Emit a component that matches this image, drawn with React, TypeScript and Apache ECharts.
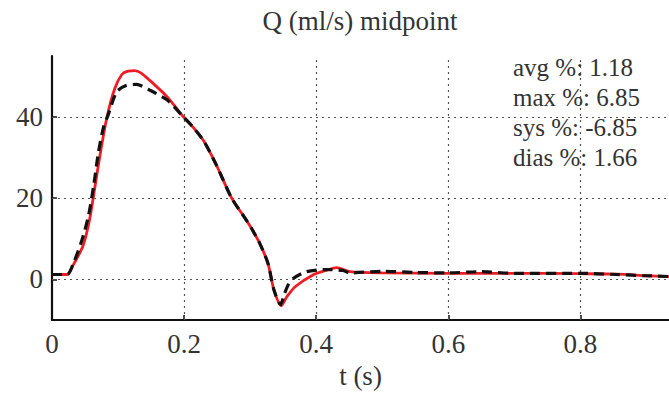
import React, { useEffect, useRef } from "react";
import * as echarts from "echarts";

const titleText = "Q (ml/s) midpoint";
const xAxisName = "t (s)";
const statsLines = ["avg %: 1.18", "max %: 6.85", "sys %: -6.85", "dias %: 1.66"];
const yTickValues = [0, 20, 40];
const xGridValues = [0.2, 0.4, 0.6, 0.8];

const redSeries: [number, number][] = [
  [0, 1.2], [0.023, 1.2], [0.032, 3.5], [0.047, 8.3], [0.057, 14.8], [0.065, 22.8],
  [0.073, 30.9], [0.083, 39.8], [0.095, 47.0], [0.106, 50.5], [0.115, 51.3], [0.125, 51.4],
  [0.135, 50.8], [0.148, 49.0], [0.174, 45.0], [0.199, 40.0], [0.215, 37.2], [0.23, 34.0],
  [0.249, 28.1], [0.272, 20.0], [0.295, 14.4], [0.304, 12.0], [0.315, 8.7], [0.327, 3.9],
  [0.336, -2.6], [0.347, -6.5], [0.355, -4.4], [0.368, -1.8], [0.395, 1.1], [0.416, 2.3],
  [0.431, 2.9], [0.451, 1.9], [0.5, 1.6], [0.6, 1.5], [0.7, 1.5], [0.8, 1.4], [0.855, 1.3],
  [0.9, 0.9], [0.934, 0.7],
];

const blackSeries: [number, number][] = [
  [0, 1.2], [0.023, 1.2], [0.032, 3.8], [0.045, 9.5], [0.055, 15.5], [0.063, 23.0],
  [0.07, 31.0], [0.078, 37.5], [0.085, 40.5], [0.098, 46.2], [0.113, 47.8], [0.128, 48.0],
  [0.148, 46.6], [0.174, 44.2], [0.199, 40.0], [0.215, 37.2], [0.23, 34.0], [0.249, 28.1],
  [0.272, 20.0], [0.295, 14.4], [0.304, 12.0], [0.315, 8.7], [0.327, 3.9], [0.336, -2.6],
  [0.346, -6.2], [0.352, -3.5], [0.358, -1.2], [0.365, 0.2], [0.385, 1.9], [0.415, 2.4],
  [0.44, 2.2], [0.451, 1.6], [0.5, 2.0], [0.55, 1.7], [0.6, 1.6], [0.65, 1.9], [0.7, 1.5],
  [0.8, 1.5], [0.855, 1.2], [0.9, 0.9], [0.934, 0.7],
];

const FONT = "Times New Roman, Liberation Serif, DejaVu Serif, serif";

export default function App() {
  const ref = useRef<HTMLDivElement>(null);
  useEffect(() => {
    if (!ref.current) return;
    const chart = echarts.init(ref.current, undefined, { renderer: "svg" });
    const gridStyle = { color: "#555", width: 1.2, type: [2, 4] as number[] };
    chart.setOption({
      animation: false,
      textStyle: { fontFamily: FONT },
      grid: { left: 52, right: 0, top: 56, bottom: 70 },
      graphic: [
        {
          type: "text",
          x: 360,
          y: 21,
          style: {
            text: titleText,
            fontFamily: FONT,
            fontSize: 27,
            fill: "#333",
            align: "center",
            verticalAlign: "middle",
          },
        },
        ...statsLines.map((s, i) => ({
          type: "text",
          x: 513,
          y: 67 + i * 30,
          z: 100,
          style: {
            text: s,
            fontFamily: FONT,
            fontSize: 25,
            fill: "#333",
            align: "left",
            verticalAlign: "middle",
          },
        })),
      ],
      xAxis: {
        type: "value",
        min: 0,
        max: 0.934,
        interval: 0.2,
        name: xAxisName,
        nameLocation: "middle",
        nameGap: 42,
        nameTextStyle: { fontFamily: FONT, fontSize: 27, color: "#333" },
        axisLine: { show: true, onZero: false, lineStyle: { color: "#111", width: 2.2 } },
        axisTick: { show: true, inside: true, length: 5, lineStyle: { color: "#111", width: 1.5 } },
        axisLabel: {
          fontFamily: FONT,
          fontSize: 27,
          color: "#333",
          margin: 10,
          showMaxLabel: false,
          formatter: (v: number) => (Math.abs(v - 0.934) < 1e-6 ? "" : String(Math.round(v * 10) / 10)),
        },
        splitLine: { show: false },
      },
      yAxis: {
        type: "value",
        min: -10,
        max: 55,
        axisLine: { show: true, onZero: false, lineStyle: { color: "#111", width: 2.2 } },
        axisTick: {
          show: true,
          inside: true,
          length: 5,
          customValues: yTickValues,
          lineStyle: { color: "#111", width: 1.5 },
        },
        axisLabel: {
          fontFamily: FONT,
          fontSize: 27,
          color: "#333",
          margin: 9,
          customValues: yTickValues,
        },
        splitLine: { show: false },
      },
      series: [
        {
          type: "line",
          data: redSeries,
          showSymbol: false,
          smooth: 0.25,
          lineStyle: { color: "#ee1c25", width: 2.8 },
          z: 3,
          markLine: {
            silent: true,
            symbol: "none",
            label: { show: false },
            lineStyle: gridStyle,
            z: 1,
            data: [
              ...yTickValues.map((v) => ({ yAxis: v })),
              ...xGridValues.map((v) => ({ xAxis: v })),
            ],
          },
        },
        {
          type: "line",
          data: blackSeries,
          showSymbol: false,
          smooth: 0.25,
          lineStyle: { color: "#111", width: 3.2, type: [10, 6] },
          z: 4,
        },
      ],
    });
    return () => chart.dispose();
  }, []);
  return (
    <div
      ref={ref}
      style={{ position: "absolute", left: 0, top: 0, width: 669, height: 394, background: "#fff" }}
    />
  );
}
